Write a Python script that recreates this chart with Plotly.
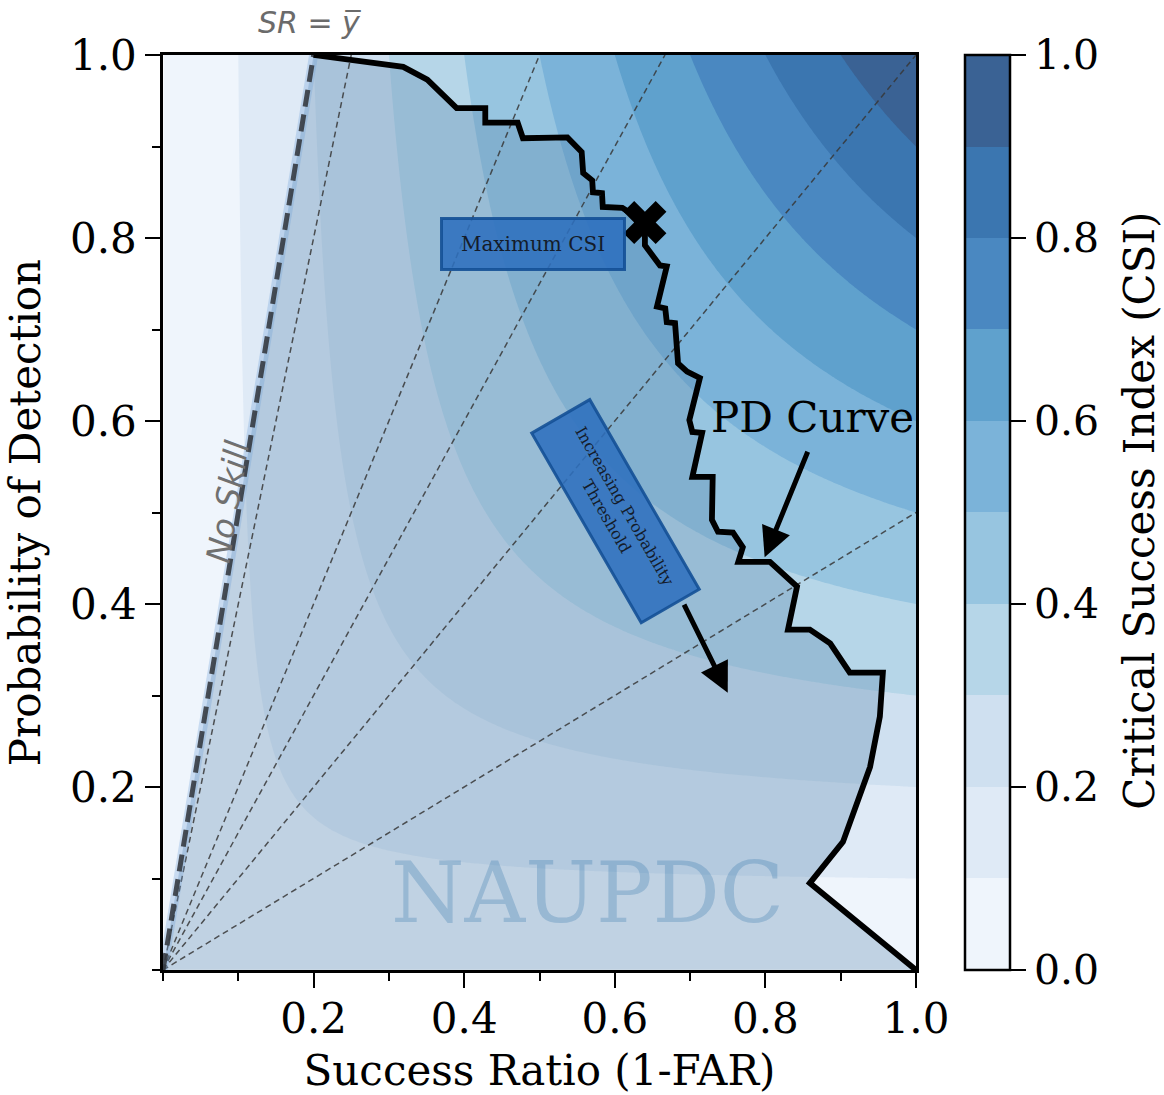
import numpy as np
import plotly.graph_objects as go

# ---------------- data ----------------
pd_sr = [0.200, 0.319, 0.351, 0.390, 0.428, 0.428, 0.471, 0.478, 0.537, 0.556, 0.558, 0.570,
         0.571, 0.583, 0.584, 0.610, 0.640, 0.640, 0.660, 0.669, 0.656, 0.667, 0.669, 0.680,
         0.684, 0.696, 0.713, 0.699, 0.703, 0.716, 0.703, 0.730, 0.729, 0.737, 0.757, 0.770,
         0.764, 0.806, 0.842, 0.830, 0.859, 0.886, 0.912, 0.956, 0.952, 0.939, 0.903, 0.859, 1.0]
pd_pod = [1.000, 0.987, 0.973, 0.942, 0.942, 0.926, 0.926, 0.909, 0.910, 0.894, 0.871, 0.863,
          0.850, 0.849, 0.834, 0.833, 0.817, 0.792, 0.770, 0.769, 0.725, 0.723, 0.708, 0.707,
          0.663, 0.654, 0.647, 0.601, 0.588, 0.587, 0.539, 0.539, 0.492, 0.479, 0.478, 0.462,
          0.446, 0.446, 0.419, 0.372, 0.372, 0.357, 0.325, 0.325, 0.277, 0.222, 0.140, 0.095, 0.0]
max_csi_sr = [0.640]
max_csi_pod = [0.817]
base_rate = 0.2
bias_values = [0.5, 1.0, 1.5, 2.0, 4.0]
csi_levels = [0.1, 0.9, 0.1]  # start, end, step
csi_range = [0.0, 1.0]
tick_vals = [0.2, 0.4, 0.6, 0.8, 1.0]
tick_text = ["0.2", "0.4", "0.6", "0.8", "1.0"]
cb_tick_vals = [0.0, 0.2, 0.4, 0.6, 0.8, 1.0]
cb_tick_text = ["0.0", "0.2", "0.4", "0.6", "0.8", "1.0"]

# ---------------- styles ----------------
band_colors = ["#eff5fc", "#dfeaf6", "#cfe0f0", "#b6d6e8", "#97c5e0",
               "#7bb3d9", "#5fa1cd", "#4a88c1", "#3b76b0", "#3a6294"]
SERIF = "DejaVu Serif"
SANS = "DejaVu Sans"
FS = 42

colorscale = []
for i, c in enumerate(band_colors):
    colorscale.append([i / 10, c])
    colorscale.append([(i + 1) / 10, c])

# CSI grid
g = np.linspace(0.0005, 1.0, 301)
SR, POD = np.meshgrid(g, g)
CSI = 1.0 / (1.0 / SR + 1.0 / POD - 1.0)

fig = go.Figure()

fig.add_trace(go.Contour(
    x=g, y=g, z=CSI,
    colorscale=colorscale,
    contours=dict(start=csi_levels[0], end=csi_levels[1], size=csi_levels[2], coloring="fill"),
    line=dict(width=0),
    showscale=False,
    hoverinfo="skip",
))

# colour bar carrier (discrete CSI scale from 0 to 1)
fig.add_trace(go.Scatter(
    x=[None], y=[None], mode="markers",
    marker=dict(color=[0.5], cmin=csi_range[0], cmax=csi_range[1], colorscale=colorscale,
                showscale=True,
                colorbar=dict(
                    x=1.065, xanchor="left", xpad=0, y=0.5, yanchor="middle", ypad=0,
                    len=1.0, lenmode="fraction", thickness=45,
                    outlinecolor="black", outlinewidth=2.5,
                    tickmode="array", tickvals=cb_tick_vals, ticktext=cb_tick_text,
                    ticks="outside", ticklen=15, tickwidth=2, tickcolor="black",
                    tickfont=dict(family=SERIF, size=41, color="black"),
                )),
    hoverinfo="skip", showlegend=False,
))

# area under the performance curve
fig.add_trace(go.Scatter(
    x=[0.0] + pd_sr + [0.0], y=[0.0] + pd_pod + [0.0],
    mode="lines", fill="toself", fillcolor="rgba(82,128,169,0.30)",
    line=dict(width=0), hoverinfo="skip", showlegend=False,
))

# bias lines
for b in bias_values:
    xe, ye = (1.0 / b, 1.0) if b >= 1 else (1.0, b)
    fig.add_trace(go.Scatter(
        x=[0.0, xe], y=[0.0, ye], mode="lines",
        line=dict(color="rgba(55,55,55,0.85)", width=1.5, dash="6px,4px"),
        hoverinfo="skip", showlegend=False,
    ))

# no-skill line
fig.add_trace(go.Scatter(
    x=[0.0, base_rate], y=[0.0, 1.0], mode="lines",
    line=dict(color="rgba(110,160,215,0.30)", width=9),
    hoverinfo="skip", showlegend=False,
))
fig.add_trace(go.Scatter(
    x=[0.0, base_rate], y=[0.0, 1.0], mode="lines",
    line=dict(color="rgba(50,55,62,0.88)", width=5, dash="17px,8px"),
    hoverinfo="skip", showlegend=False,
))

# PD curve
fig.add_trace(go.Scatter(
    x=pd_sr, y=pd_pod, mode="lines",
    line=dict(color="black", width=5.8),
    hoverinfo="skip", showlegend=False,
))

# max CSI marker
fig.add_trace(go.Scatter(
    x=max_csi_sr, y=max_csi_pod, mode="markers",
    marker=dict(symbol="x", size=38, color="black", line=dict(width=0)),
    hoverinfo="skip", showlegend=False,
))

annotations = [
    # watermark
    dict(x=0.564, y=0.084, xref="x", yref="y", text="NAUPDC", showarrow=False,
         font=dict(family=SERIF, size=84, color="rgba(70,130,180,0.33)")),
    # SR = ybar
    dict(x=0.195, y=1.036, xref="x", yref="paper", yanchor="middle",
         text="<i>SR</i> = <i>y\u0305</i>",
         showarrow=False, font=dict(family=SANS, size=30, color="#6b6b6b")),
    # No skill
    dict(x=0.086, y=0.512, xref="x", yref="y", text="<i>No Skill</i>", showarrow=False,
         textangle=-80.6, font=dict(family=SANS, size=33, color="#707070")),
    # Maximum CSI box
    dict(x=0.4914, y=0.7934, xref="x", yref="y", text="Maximum CSI", showarrow=False,
         width=176, height=44, borderpad=2, borderwidth=3,
         bgcolor="rgba(45,112,190,0.88)", bordercolor="rgba(20,80,150,0.9)",
         font=dict(family=SERIF, size=20, color="#141c2a")),
    # Increasing probability threshold box
    dict(x=0.601, y=0.502, xref="x", yref="y",
         text="Increasing Probability<br>Threshold", showarrow=False,
         textangle=60, width=210, height=58, borderpad=3, borderwidth=3,
         bgcolor="rgba(45,112,190,0.88)", bordercolor="rgba(20,80,150,0.9)",
         font=dict(family=SERIF, size=16, color="#141c2a")),
    # arrow from threshold box
    dict(x=0.750, y=0.303, xref="x", yref="y", ax=0.691, ay=0.401, axref="x", ayref="y",
         text="", showarrow=True, arrowhead=2, arrowsize=1.2, arrowwidth=5,
         arrowcolor="black", standoff=0, startstandoff=0),
    # PD curve label + arrow
    dict(x=0.862, y=0.604, xref="x", yref="y", text="PD Curve", showarrow=False,
         font=dict(family=SERIF, size=FS, color="black")),
    dict(x=0.799, y=0.451, xref="x", yref="y", ax=0.857, ay=0.568, axref="x", ayref="y",
         text="", showarrow=True, arrowhead=2, arrowsize=1.2, arrowwidth=5,
         arrowcolor="black", standoff=0, startstandoff=0),
    # colour bar title
    dict(x=1.2975, y=0.502, xref="paper", yref="paper", text="Critical Success Index (CSI)",
         showarrow=False, textangle=-90, xanchor="center", yanchor="middle",
         font=dict(family=SERIF, size=FS, color="black")),
]

axis_common = dict(
    range=[0, 1], showgrid=False, zeroline=False, automargin=False,
    showline=True, linecolor="black", linewidth=2.5, mirror=True,
    tickmode="array", tickvals=tick_vals, ticktext=tick_text,
    ticks="outside", ticklen=15, tickwidth=2, tickcolor="black",
    tickfont=dict(family=SERIF, size=FS, color="black"),
    minor=dict(tickmode="linear", tick0=0, dtick=0.1, ticks="outside",
               ticklen=8, tickwidth=2, tickcolor="black"),
)

fig.update_layout(
    width=1164, height=1095,
    margin=dict(l=163, r=248, t=55, b=125, autoexpand=False),
    paper_bgcolor="white", plot_bgcolor="white",
    showlegend=False,
    annotations=annotations,
    xaxis=dict(axis_common, ticklabelstandoff=-5,
               title=dict(text="Success Ratio (1-FAR)",
                          font=dict(family=SERIF, size=FS, color="black"),
                          standoff=16)),
    yaxis=dict(axis_common, title=dict(text="Probability of Detection",
                                       font=dict(family=SERIF, size=FS, color="black"),
                                       standoff=17)),
)

fig.write_html("out.html")
